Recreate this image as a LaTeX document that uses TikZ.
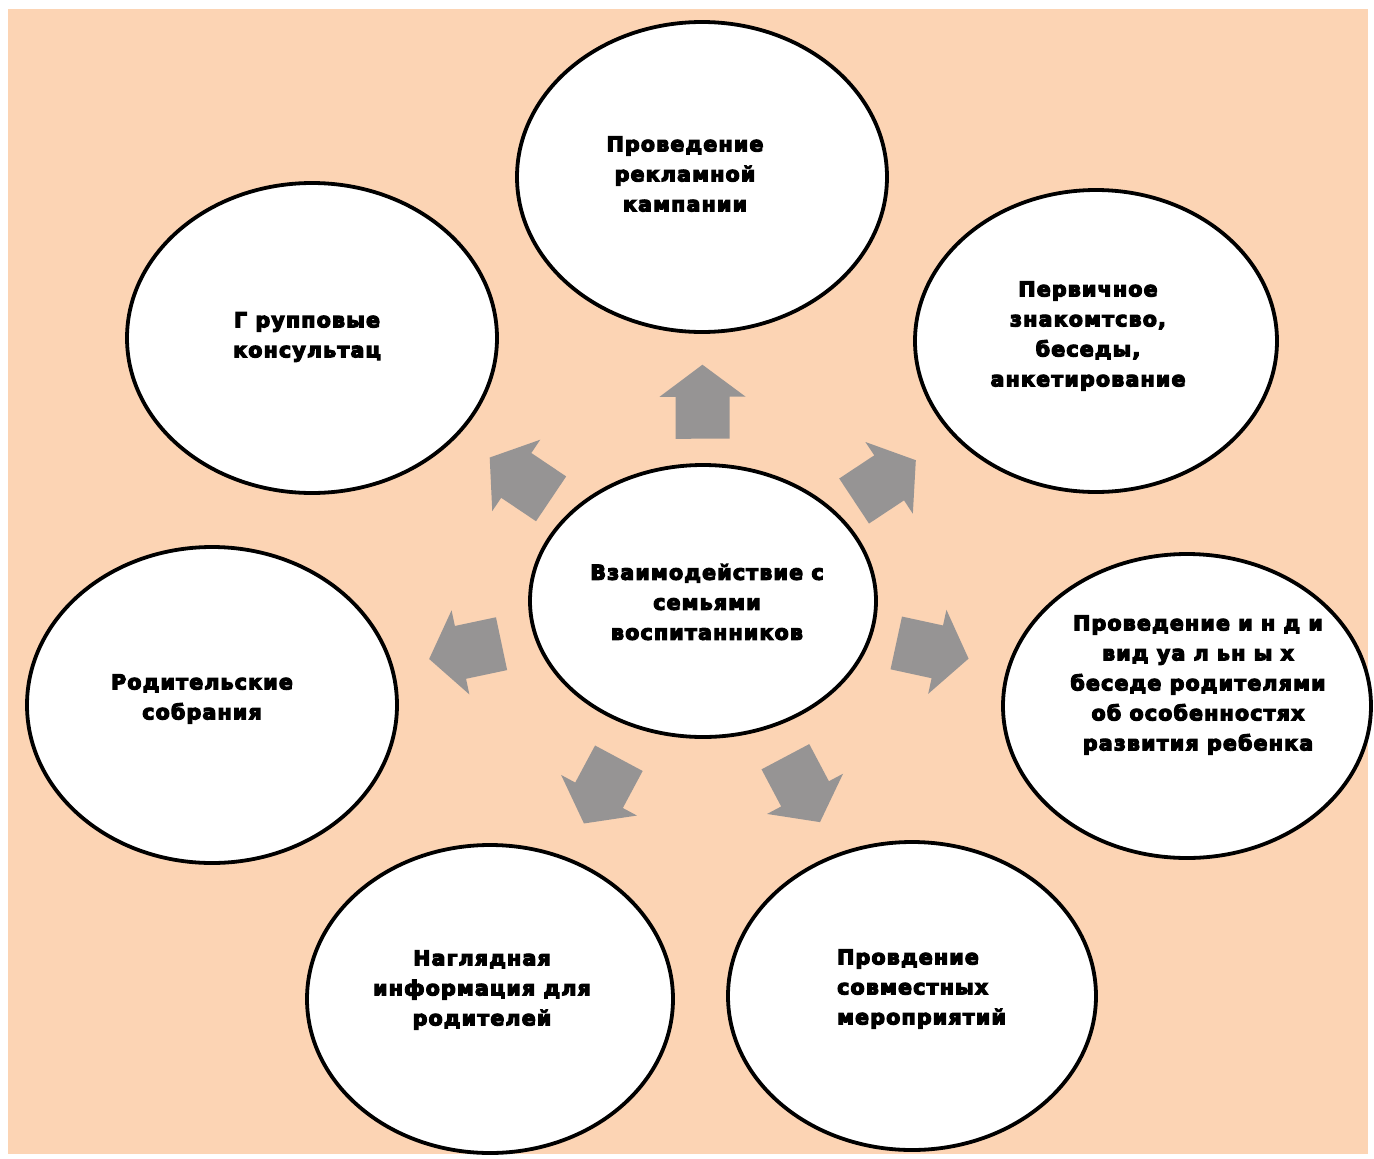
\documentclass[tikz,border=0pt]{standalone}
\usepackage{fontspec}
\setmainfont{DejaVu Sans}
\usetikzlibrary{shapes.geometric,calc}
\definecolor{peach}{RGB}{252,212,180}
\definecolor{arrowgray}{RGB}{150,148,148}
\newcommand\radarrow[3]{%
  \path let \p1=($(#2.center)-(#1.center)$), \n1={atan2(\y1,\x1)} in
    pic[rotate=\n1] at ($(#1.center)!#3!(#2.center)$) {blockarrow};}
\begin{document}
\begin{tikzpicture}[x=1pt,y=-1pt,
  bubble/.style={ellipse,draw=black,line width=3.8pt,fill=white,inner sep=0pt},
  txt/.style={align=center,inner sep=0pt,
    font=\fontsize{20.5}{30}\selectfont\bfseries\addfontfeatures{LetterSpace=6,FakeBold=6}},
  pics/blockarrow/.style={code={%
    \fill[arrowgray] (-37,-27) -- (5,-27) -- (5,-43) -- (37,0) -- (5,43) -- (5,27) -- (-37,27) -- cycle;}}]
\useasboundingbox (0,0) rectangle (1374,1159);
\fill[white] (0,0) rectangle (1374,1159);
\fill[peach] (8,9) rectangle (1368,1154);

% bubbles
\node[bubble,minimum width=346pt,minimum height=272pt] (c) at (703,601) {};
\node[bubble,minimum width=370pt,minimum height=310pt] (top) at (702,177) {};
\node[bubble,minimum width=370pt,minimum height=310pt] (tl) at (312,338) {};
\node[bubble,minimum width=362pt,minimum height=302pt] (tr) at (1096,341) {};
\node[bubble,minimum width=370pt,minimum height=316pt] (l) at (212,705) {};
\node[bubble,minimum width=368pt,minimum height=304pt] (r) at (1187,706) {};
\node[bubble,minimum width=366pt,minimum height=308pt] (bl) at (490,999) {};
\node[bubble,minimum width=368pt,minimum height=308pt] (br) at (912,996) {};

% texts
\node[txt] (tc) at (707,602) {Взаимодействие с\\семьями\\воспитанников};
\node[txt] (ttop) at (685,174) {Проведение\\рекламной\\кампании};
\node[txt] (ttl) at (307,337) {Г рупповые\\консультац};
\node[txt] (ttr) at (1088,336) {Первичное\\знакомтсво,\\беседы,\\анкетирование};
\node[txt] (tl2) at (202,699) {Родительские\\собрания};
\node[txt] (tr2) at (1198,685) {Проведение и н д и\\вид уа л ьн ы х\\беседе родителями\\об особенностях\\развития ребенка};
\node[txt] (tbl) at (482,990) {Наглядная\\информация для\\родителей};
\node[txt,align=left,anchor=west] (tbr) at (837,989) {Провдение\\совместных\\мероприятий};

% arrows
\radarrow{c}{top}{0.47}
\radarrow{c}{tl}{0.467}
\radarrow{c}{tr}{0.463}
\radarrow{c}{l}{0.484}
\radarrow{c}{r}{0.474}
\radarrow{c}{bl}{0.477}
\radarrow{c}{br}{0.477}
\end{tikzpicture}
\end{document}
